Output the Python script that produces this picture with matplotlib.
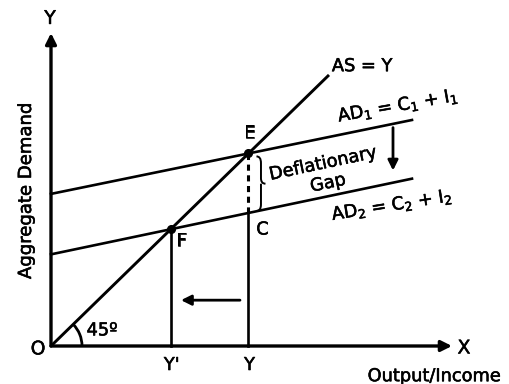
import numpy as np
import matplotlib.pyplot as plt
import matplotlib.patheffects as pe
from matplotlib.patches import Arc, PathPatch
from matplotlib.path import Path

plt.rcParams['font.family'] = ['DejaVu Sans']
plt.rcParams['mathtext.fontset'] = 'dejavusans'

# model lines (arbitrary income units, origin at O)
as_x = [0, 278]          # AS = Y, 45 degree line
ad1_a, ad1_b = 156, 0.21  # AD1 = C1 + I1
ad2_a, ad2_b = 94, 0.215  # AD2 = C2 + I2
ad_x = [0, 361]
x_axis_end = 401
y_axis_end = 321

# equilibrium points
Ex = ad1_a / (1 - ad1_b)
Ey = Ex
Fx = ad2_a / (1 - ad2_b)
Fy = Fx
Cy = ad2_a + ad2_b * Ex

fig = plt.figure(figsize=(5.1, 3.84), dpi=100)
ax = fig.add_axes([0, 0, 1, 1])
ys = 0.975
ax.set_xlim(-51, 510 - 51)
ax.set_ylim(-(384 - 346) / ys, 346 / ys)
ax.axis('off')

k = 'black'
arr = dict(arrowstyle='-|>', color=k, lw=2.4, mutation_scale=16, shrinkA=0, shrinkB=0)
ax.annotate('', xy=(x_axis_end, 0), xytext=(0, 0), arrowprops=arr)
ax.annotate('', xy=(0, y_axis_end), xytext=(0, 0), arrowprops=arr)

# lines
ax.plot(as_x, as_x, color=k, lw=2.1, solid_capstyle='butt')
adx = np.array(ad_x)
ax.plot(adx, ad1_a + ad1_b * adx, color=k, lw=1.9)
ax.plot(adx, ad2_a + ad2_b * adx, color=k, lw=1.9)

ax.plot([Fx, Fx], [0, Fy], color=k, lw=1.9)
ax.plot([Ex, Ex], [0, Cy], color=k, lw=1.9)
ax.plot([Ex, Ex], [Cy, Ey], color=k, lw=2.2, ls=(0, (2.0, 1.5)))
ax.plot([Ex, Fx], [Ey, Fy], 'o', color=k, ms=5.5)

# 45 degree arc
ax.add_patch(Arc((0, 0), 62, 62 / ys, theta1=0, theta2=45, color=k, lw=2))

# shift arrows
small = dict(arrowstyle='-|>', color=k, lw=2, mutation_scale=15, shrinkA=0, shrinkB=0)
ax.annotate('', xy=(130, 47), xytext=(189, 47), arrowprops=small)
ax.annotate('', xy=(342, 180), xytext=(342, 224), arrowprops=small)

# brace between E and C
x0 = Ex + 8
w = 9
yt = Ey - 3
yb = Cy + 2
ym = (yt + yb) / 2
h = yt - yb
verts = [(x0, yt), (x0 + w / 2, yt), (x0 + w / 2, yt - 0.12 * h),
         (x0 + w / 2, ym + 0.1 * h),
         (x0 + w / 2, ym), (x0 + w, ym),
         (x0 + w / 2, ym), (x0 + w / 2, ym - 0.1 * h),
         (x0 + w / 2, yb + 0.12 * h),
         (x0 + w / 2, yb), (x0, yb)]
codes = [Path.MOVETO, Path.CURVE3, Path.CURVE3, Path.LINETO,
         Path.CURVE3, Path.CURVE3, Path.MOVETO, Path.CURVE3, Path.LINETO,
         Path.CURVE3, Path.CURVE3]
ax.add_patch(PathPatch(Path(verts, codes), fill=False, color=k, lw=1.4))

bold = [pe.withStroke(linewidth=0.4, foreground=k)]
fs = 12.8


def label(x, y, s, size=fs, rot=0):
    ax.text(x, y, s, fontsize=size, ha='center', va='center', rotation=rot,
            path_effects=bold)


label(-1, 336, 'Y', 13.5)
label(413, -2, 'X', 13.5)
label(-13, -3, 'O', 13.5)
label(383, -31, 'Output/Income')
label(-25, 159, 'Aggregate Demand', 13, rot=90)
label(311, 287, 'AS = Y')
label(Ex + 1, Ey + 21, 'E')
label(Fx + 11, Fy - 12, 'F')
label(Ex + 14, Cy - 17, 'C')
label(Fx + 1, -19.5, "Y'")
label(Ex + 1, -19.5, 'Y')
label(51, 16, '45º')
label(272, 187, 'Deflationary', rot=12)
label(277, 167, 'Gap', rot=12)
label(347, 246, r'AD$_1$ = C$_1$ + I$_1$', rot=10)
label(341, 144, r'AD$_2$ = C$_2$ + I$_2$', rot=9)

fig.savefig('out.png', dpi=100)
